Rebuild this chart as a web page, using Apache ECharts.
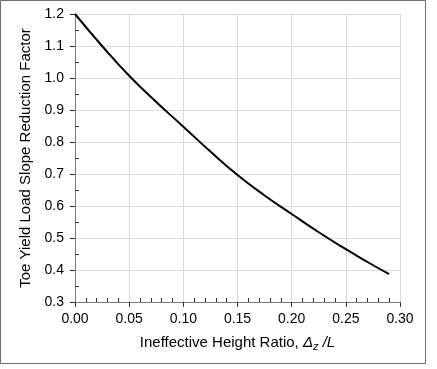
<!DOCTYPE html>
<html><head><meta charset="utf-8">
<script src="https://cdn.jsdelivr.net/npm/echarts@6/dist/echarts.min.js"></script>
<style>html,body{margin:0;padding:0;background:#fff}#c{width:437px;height:369px}</style>
</head><body><div id="c"></div>
<script>
const xValues = [0, 0.025, 0.05, 0.075, 0.10, 0.125, 0.15, 0.175, 0.20, 0.225, 0.25, 0.27, 0.29];
const yValues = [1.2, 1.10, 1.007, 0.925, 0.848, 0.77, 0.697, 0.633, 0.575, 0.518, 0.465, 0.425, 0.387];
const xTitle = 'Ineffective Height Ratio, ';
const yTitle = 'Toe Yield Load Slope Reduction Factor';

const chart = echarts.init(document.getElementById('c'));
const font = 'Liberation Sans, Arial, sans-serif';
chart.setOption({
  animation: false,
  graphic: [{type:'rect', shape:{x:0.5,y:0.5,width:425,height:363}, style:{fill:'none', stroke:'#6e6e6e', lineWidth:1}}],
  grid: {left:75, top:14, right:37, bottom:67},
  xAxis: {
    type:'value', min:0, max:0.30, interval:0.05,
    axisLine:{lineStyle:{color:'#7a7a7a', width:1}},
    axisTick:{show:true, length:5, lineStyle:{color:'#333'}},
    minorTick:{show:true, splitNumber:5, length:-4, lineStyle:{color:'#333'}},
    splitLine:{show:true, lineStyle:{color:'#d9d9d9', width:1}},
    axisLabel:{formatter:v=>v.toFixed(2), color:'#000', fontFamily:font, fontSize:14, margin:10},
    name: '{n|' + xTitle + '}{i|Δ}{s|z}{i| /L}',
    nameLocation:'middle', nameGap:32,
    nameTextStyle:{color:'#000', fontFamily:font, fontSize:15,
      rich:{n:{fontFamily:font,fontSize:15,color:'#000'}, i:{fontFamily:font,fontSize:15,fontStyle:'italic',color:'#000'}, s:{fontFamily:font,fontSize:11,fontStyle:'italic',color:'#000',verticalAlign:'bottom', padding:[7,0,0,0]}}}
  },
  yAxis: {
    type:'value', min:0.3, max:1.2, interval:0.1,
    axisLine:{show:true, lineStyle:{color:'#7a7a7a', width:1}},
    axisTick:{show:true, length:5, lineStyle:{color:'#333'}},
    minorTick:{show:true, splitNumber:2, length:-4, lineStyle:{color:'#333'}},
    splitLine:{show:true, lineStyle:{color:'#d9d9d9', width:1}},
    axisLabel:{formatter:v=>v.toFixed(1), color:'#000', fontFamily:font, fontSize:14, margin:11},
    name: yTitle, nameLocation:'middle', nameGap:39, nameRotate:90,
    nameTextStyle:{color:'#000', fontFamily:font, fontSize:15}
  },
  series: [{
    type:'line', smooth:true, symbol:'none',
    data: xValues.map((x,i)=>[x, yValues[i]]),
    lineStyle:{color:'#000', width:2}
  }]
});
</script></body></html>
